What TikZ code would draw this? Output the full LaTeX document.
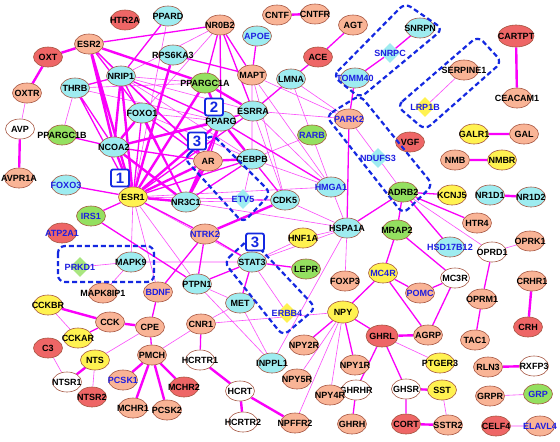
\documentclass[tikz,border=0pt]{standalone}
\usepackage{fontspec}
\setmainfont{Liberation Sans}
\usepackage{tikz}
\usetikzlibrary{shapes.geometric,backgrounds}
\definecolor{GeneSalmon}{RGB}{249,180,150}
\definecolor{GeneRed}{RGB}{238,102,102}
\definecolor{GeneCyan}{RGB}{158,236,240}
\definecolor{GeneGreen}{RGB}{148,224,96}
\definecolor{GeneYellow}{RGB}{255,242,80}
\definecolor{GeneRim}{RGB}{165,85,65}
\definecolor{LinkMag}{RGB}{250,0,250}
\definecolor{GroupBlue}{RGB}{20,40,225}
\definecolor{TextBlue}{RGB}{30,30,225}
\newcommand\genelab{\bfseries\fontsize{9}{10}\selectfont}
\tikzset{
  gene/.style={ellipse,draw=GeneRim,line width=0.6pt,minimum width=29pt,minimum height=20pt,inner sep=0pt},
  gsal/.style={gene,fill=GeneSalmon}, gred/.style={gene,fill=GeneRed},
  gcya/.style={gene,fill=GeneCyan}, ggrn/.style={gene,fill=GeneGreen},
  gyel/.style={gene,fill=GeneYellow}, gwht/.style={gene,fill=white},
  dia/.style={diamond,minimum width=20pt,minimum height=20pt,inner sep=0pt},
  dcya/.style={dia,fill=GeneCyan}, dyel/.style={dia,fill=GeneYellow}, dgrn/.style={dia,fill=GeneGreen!80},
  lab/.style={label={[font=\genelab,inner sep=0pt]center:#1}},
  blab/.style={label={[font=\genelab,inner sep=0pt,text=TextBlue]center:#1}},
}
\tikzset{strong/.style={draw=LinkMag,line width=2.4pt}, edge/.style={draw=LinkMag,line width=1.3pt},
  weak/.style={draw=LinkMag!70,line width=0.6pt},
  grp/.style={draw=GroupBlue,line width=2.2pt,dash pattern=on 5pt off 3pt,rounded corners=7pt},
  tag/.style={draw=GroupBlue,fill=white,line width=1.8pt,rounded corners=2pt,minimum width=18pt,minimum height=17pt,inner sep=0pt,text=GroupBlue,font=\bfseries\fontsize{15}{15}\selectfont}}

\begin{document}
\begin{tikzpicture}[x=1pt,y=-1pt]
\useasboundingbox (0,0) rectangle (560,442);
% top rows
\node[gred,lab=HTR2A] (htr2a) at (125,20) {};
\node[gcya,lab=PPARD] (ppard) at (168,16) {};
\node[gsal,lab=NR0B2] (nr0b2) at (220,25) {};
\node[gsal,lab=CNTF] (cntf) at (277,15) {};
\node[gsal,lab=CNTFR] (cntfr) at (315,14) {};
\node[gsal,lab=AGT] (agt) at (353,25) {};
\node[gcya,lab=SNRPN] (snrpn) at (420,28) {};
\node[gred,lab=CARTPT,minimum width=36pt,minimum height=22pt] (cartpt) at (516,36) {};
\node[gsal,lab=ESR2] (esr2) at (89,44) {};
\node[gcya,lab=RPS6KA3] (rps6ka3) at (173,55) {};
\node[gcya,blab=APOE] (apoe) at (257,36) {};
\node[gred,lab=ACE] (ace) at (318,57) {};
\node[gred,lab=OXT] (oxt) at (48,57) {};
\node[dcya,blab=SNRPC] (snrpc) at (390,53) {};
\node[gsal,lab=SERPINE1] (serpine1) at (464,70) {};
\node[gcya,lab=NRIP1] (nrip1) at (121,76) {};
\node[ggrn,lab=PPARGC1A] (ppargc1a) at (205,83) {};
\node[gsal,lab=MAPT] (mapt) at (252,75) {};
\node[gcya,lab=LMNA] (lmna) at (291,79) {};
\node[gcya,blab=TOMM40] (tomm40) at (355,78) {};
\node[gcya,lab=THRB] (thrb) at (75,88) {};
\node[gsal,lab=OXTR] (oxtr) at (27,93) {};
\node[gsal,lab=CEACAM1] (ceacam1) at (517,98) {};
\node[dyel,blab=LRP1B] (lrp1b) at (425,107) {};
\node[gcya,lab=FOXO1] (foxo1) at (142,113) {};
\node[gcya,lab=ESRRA] (esrra) at (253,111) {};
\node[gcya,lab=PPARG] (pparg) at (221,121) {};
\node[gsal,blab=PARK2] (park2) at (349,119) {};
\node[gwht,lab=AVP] (avp) at (20,129) {};
\node[ggrn,lab=PPARGC1B] (ppargc1b) at (62,135) {};
\node[gyel,lab=GALR1] (galr1) at (474,134) {};
\node[gsal,lab=GAL] (gal) at (524,134) {};
\node[gred,lab=VGF] (vgf) at (410,142) {};
\node[ggrn,blab=RARB] (rarb) at (312,135) {};
\node[gcya,lab=NCOA2] (ncoa2) at (114,147) {};
\node[gsal,lab=AR] (ar) at (208,161) {};
\node[gcya,lab=CEBPB] (cebpb) at (252,159) {};
\node[gsal,lab=NMB] (nmb) at (455,160) {};
\node[gyel,lab=NMBR] (nmbr) at (502,160) {};
\node[dcya,blab=NDUFS3] (ndufs3) at (378,158) {};
\node[gcya,blab=HMGA1] (hmga1) at (331,187) {};
% middle rows
\node[gsal,lab=AVPR1A] (avpr1a) at (19,178) {};
\node[gcya,blab=FOXO3] (foxo3) at (66,185) {};
\node[gyel,lab=ESR1] (esr1) at (133,197) {};
\node[gcya,lab=NR3C1] (nr3c1) at (186,202) {};
\node[dcya,blab=ETV5] (etv5) at (243,199) {};
\node[gcya,lab=CDK5] (cdk5) at (285,200) {};
\node[ggrn,lab=ADRB2] (adrb2) at (403,192) {};
\node[gyel,lab=KCNJ5] (kcnj5) at (452,195) {};
\node[gcya,lab=NR1D1] (nr1d1) at (490,195) {};
\node[gcya,lab=NR1D2] (nr1d2) at (531,197) {};
\node[gcya,lab=HSPA1A] (hspa1a) at (347,228) {};
\node[ggrn,blab=IRS1] (irs1) at (91,216) {};
\node[gred,blab=ATP2A1] (atp2a1) at (62,233) {};
\node[gsal,blab=NTRK2] (ntrk2) at (205,234) {};
\node[gsal,lab=HTR4] (htr4) at (477,223) {};
\node[gyel,lab=HNF1A] (hnf1a) at (303,238) {};
\node[ggrn,lab=MRAP2] (mrap2) at (397,230) {};
\node[gcya,lab=STAT3] (stat3) at (252,262) {};
\node[gcya,blab=HSD17B12] (hsd17b12) at (450,247) {};
\node[gwht,lab=OPRD1] (oprd1) at (492,252) {};
\node[gsal,lab=OPRK1] (oprk1) at (530,241) {};
\node[dgrn,blab=PRKD1] (prkd1) at (80,267) {};
\node[gcya,lab=MAPK9] (mapk9) at (131,262) {};
\node[ggrn,lab=LEPR] (lepr) at (306,269) {};
\node[gsal,lab=FOXP3] (foxp3) at (345,281) {};
\node[gyel,blab=MC4R] (mc4r) at (383,273) {};
\node[gcya,lab=PTPN1] (ptpn1) at (197,284) {};
\node[gsal,lab=MAPK8IP1] (mapk8ip1) at (103,293) {};
\node[gsal,blab=BDNF] (bdnf) at (158,292) {};
\node[gwht,lab=MC3R] (mc3r) at (455,278) {};
\node[gsal,lab=CRHR1] (crhr1) at (532,281) {};
\node[gsal,blab=POMC] (pomc) at (420,293) {};
\node[gcya,lab=MET] (met) at (240,303) {};
\node[gyel,lab=NPY,minimum width=31pt,minimum height=22pt] (npy) at (343,312) {};
% lower rows
\node[gyel,lab=CCKBR] (cckbr) at (48,305) {};
\node[gsal,lab=CCK] (cck) at (110,322) {};
\node[gsal,lab=CPE] (cpe) at (150,327) {};
\node[gsal,lab=OPRM1] (oprm1) at (482,299) {};
\node[dyel,blab=ERBB4] (erbb4) at (287,313) {};
\node[gsal,lab=CNR1] (cnr1) at (201,324) {};
\node[gyel,lab=CCKAR] (cckar) at (78,338) {};
\node[gred,lab=C3] (c3) at (48,348) {};
\node[gyel,lab=NTS] (nts) at (95,360) {};
\node[gsal,lab=PMCH] (pmch) at (152,355) {};
\node[gred,lab=GHRL,minimum width=32pt,minimum height=22pt] (ghrl) at (382,336) {};
\node[gsal,lab=AGRP] (agrp) at (428,335) {};
\node[gsal,lab=NPY2R] (npy2r) at (304,345) {};
\node[gred,lab=CRH] (crh) at (528,327) {};
\node[gsal,lab=TAC1] (tac1) at (475,340) {};
\node[gwht,lab=HCRTR1] (hcrtr1) at (200,360) {};
\node[gcya,lab=INPPL1] (inppl1) at (272,363) {};
\node[gyel,lab=PTGER3] (ptger3) at (440,363) {};
\node[gsal,lab=NPY1R] (npy1r) at (355,365) {};
\node[gwht,lab=NTSR1] (ntsr1) at (67,382) {};
\node[gred,lab=NTSR2] (ntsr2) at (92,397) {};
\node[gsal,blab=PCSK1] (pcsk1) at (123,380) {};
\node[gred,lab=MCHR2] (mchr2) at (184,387) {};
\node[gsal,lab=NPY5R] (npy5r) at (297,379) {};
\node[gsal,lab=RLN3] (rln3) at (488,367) {};
\node[gwht,lab=RXFP3] (rxfp3) at (534,366) {};
\node[gwht,lab=HCRT] (hcrt) at (240,391) {};
\node[gwht,lab=GHRHR] (ghrhr) at (356,390) {};
\node[gwht,lab=GHSR] (ghsr) at (406,389) {};
\node[gyel,lab=SST] (sst) at (442,390) {};
\node[gsal,lab=NPY4R] (npy4r) at (330,395) {};
\node[gsal,lab=GRPR] (grpr) at (490,396) {};
\node[ggrn,blab=GRP] (grp) at (538,394) {};
\node[gsal,lab=MCHR1] (mchr1) at (133,408) {};
\node[gsal,lab=PCSK2] (pcsk2) at (167,410) {};
\node[gwht,lab=HCRTR2] (hcrtr2) at (243,422) {};
\node[gsal,lab=NPFFR2] (npffr2) at (295,423) {};
\node[gsal,lab=GHRH] (ghrh) at (352,424) {};
\node[gred,lab=CORT] (cort) at (406,424) {};
\node[gsal,lab=SSTR2] (sstr2) at (448,425) {};
\node[gred,lab=CELF4] (celf4) at (496,426) {};
\node[gsal,blab=ELAVL4] (elavl4) at (540,426) {};

\begin{scope}[on background layer]
\fill[white] (0,0) rectangle (560,442);
% weak links
\draw[weak] (oxtr) -- (avp) (serpine1) -- (lrp1b) (celf4) -- (elavl4) (grpr) -- (grp) (oprk1) -- (oprd1) (adrb2) -- (oprd1);
\draw[weak] (park2) -- (ndufs3) (ndufs3) -- (adrb2) (park2) -- (lmna) (park2) -- (esrra) (park2) -- (mapt);
\draw[weak] (sst) -- (sstr2) (ghrl) -- (ptger3) (cckbr) -- (cckar) (c3) -- (ntsr1) (nts) -- (ntsr2) (nts) -- (cpe);
\draw[weak] (mapk9) -- (prkd1) (mapk9) -- (mapk8ip1) (mapk9) -- (esr1) (mapk9) -- (stat3);
\draw[weak] (esr1) -- (ptpn1) (esr1) -- (stat3) (esr1) -- (cdk5) (esr1) -- (etv5) (esr1) -- (hmga1) (esr1) -- (bdnf) (ppard) -- (esr1);
\draw[weak] (met) -- (ptpn1) (met) -- (inppl1) (met) -- (cnr1) (ptpn1) -- (inppl1);
\draw[weak] (stat3) -- (hnf1a) (stat3) -- (erbb4) (stat3) -- (hspa1a);
\draw[weak] (hspa1a) -- (hnf1a) (hspa1a) -- (foxp3) (hspa1a) -- (cdk5) (hspa1a) -- (nr3c1) (hspa1a) -- (inppl1) (hspa1a) -- (hmga1);
\draw[weak] (cnr1) -- (npy) (pmch) -- (cnr1) (npy) -- (npy5r) (npy) -- (npy4r) (npy) -- (npffr2);
\draw[weak] (cebpb) -- (rarb) (cebpb) -- (etv5) (cebpb) -- (hmga1) (lmna) -- (hmga1) (mapt) -- (cdk5) (mapt) -- (hmga1) (mapt) -- (cebpb);
\draw[weak] (thrb) -- (ppargc1b) (thrb) -- (ppargc1a) (thrb) -- (pparg) (nrip1) -- (ppargc1a) (nrip1) -- (esrra) (nrip1) -- (cebpb);
\draw[weak] (foxo1) -- (pparg) (foxo1) -- (cebpb) (ncoa2) -- (esrra) (nr3c1) -- (cdk5) (nr0b2) -- (nrip1) (nr0b2) -- (foxo1) (esrra) -- (cdk5) (esrra) -- (hmga1);
% plain links
\draw[edge] (esr2) -- (nrip1) (esr2) -- (nr0b2) (esr2) -- (foxo1) (esr2) -- (ar);
\draw[edge] (ppard) -- (nrip1) (thrb) -- (ncoa2) (thrb) -- (nrip1) (thrb) -- (esr1) (ppargc1b) -- (ncoa2);
\draw[edge] (nr0b2) -- (ppargc1a) (nr0b2) -- (esrra) (nr0b2) -- (pparg) (nr0b2) -- (mapt) (rps6ka3) -- (mapt) (apoe) -- (mapt);
\draw[edge] (agt) -- (ace) (ace) -- (lmna) (lmna) -- (esrra) (snrpn) -- (snrpc) (snrpc) -- (tomm40) (tomm40) -- (park2);
\draw[edge] (esr1) -- (foxo1) (esr1) -- (esrra) (esr1) -- (cebpb) (esr1) -- (foxo3) (esr1) -- (irs1) (esr1) -- (ntrk2);
\draw[edge] (nrip1) -- (pparg) (nrip1) -- (nr3c1) (nrip1) -- (ar) (foxo1) -- (ar) (foxo1) -- (nr3c1) (ncoa2) -- (ar);
\draw[edge] (pparg) -- (esrra) (pparg) -- (ar) (pparg) -- (hmga1) (cebpb) -- (nr3c1) (cebpb) -- (cdk5);
\draw[edge] (park2) -- (hspa1a) (adrb2) -- (hspa1a) (adrb2) -- (mrap2) (adrb2) -- (kcnj5) (adrb2) -- (htr4) (adrb2) -- (hsd17b12);
\draw[edge] (mrap2) -- (mc4r) (mrap2) -- (mc3r) (mc4r) -- (pomc) (mc4r) -- (agrp) (mc4r) -- (npy) (pomc) -- (mc3r) (agrp) -- (mc3r);
\draw[edge] (oprd1) -- (oprm1) (oprm1) -- (tac1) (npy) -- (npy2r) (npy) -- (npy1r) (npy) -- (ghrl);
\draw[edge] (ghrl) -- (ghsr) (ghrl) -- (ghrhr) (ghrhr) -- (ghrh) (ghsr) -- (cort);
\draw[edge] (stat3) -- (lepr) (stat3) -- (ptpn1) (stat3) -- (met) (stat3) -- (ntrk2) (irs1) -- (ptpn1) (ntrk2) -- (bdnf) (ntrk2) -- (ptpn1);
\draw[edge] (bdnf) -- (cpe) (cpe) -- (pmch) (cck) -- (cckar) (cnr1) -- (hcrtr1);
% strong links
\draw[strong] (oxt) -- (esr2) (oxt) -- (oxtr) (avp) -- (avpr1a) (cntf) -- (cntfr) (cartpt) -- (ceacam1);
\draw[strong] (galr1) -- (gal) (nmb) -- (nmbr) (nr1d1) -- (nr1d2) (crhr1) -- (crh) (rln3) -- (rxfp3);
\draw[strong] (esr2) -- (ncoa2) (esr2) -- (esr1) (esr2) -- (ppargc1a);
\draw[strong] (esr1) -- (ncoa2) (esr1) -- (nrip1) (esr1) -- (ppargc1a) (esr1) -- (pparg) (esr1) -- (ar) (esr1) -- (nr3c1) (esr1) -- (rps6ka3);
\draw[strong] (ncoa2) -- (nrip1) (ncoa2) -- (pparg) (ncoa2) -- (nr3c1) (ncoa2) -- (foxo1);
\draw[strong] (ppargc1a) -- (pparg) (ppargc1a) -- (esrra) (pparg) -- (cebpb) (pparg) -- (nr3c1) (ar) -- (nr3c1) (ar) -- (cebpb) (ntrk2) -- (cdk5);
\draw[strong] (cck) -- (cckbr) (cck) -- (cpe) (hcrtr1) -- (hcrt) (hcrt) -- (hcrtr2) (hcrt) -- (npffr2);
\draw[strong] (pmch) -- (pcsk1) (pmch) -- (mchr1) (pmch) -- (pcsk2) (pmch) -- (mchr2) (nts) -- (ntsr1);
\draw[strong] (ghrl) -- (agrp) (ghsr) -- (sst) (cort) -- (sstr2);
\end{scope}

% dashed groups
\draw[grp] (333,76) -- (405,3) -- (443,29) -- (360,98) -- cycle;
\draw[grp] (397,106) -- (478,36) -- (502,62) -- (425,130) -- cycle;
\draw[grp] (326,116) -- (360,95) -- (433,185) -- (403,214) -- cycle;
\draw[grp] (184,158) -- (212,134) -- (271,193) -- (243,223) -- cycle;
\draw[grp] (224,262) -- (250,238) -- (316,308) -- (283,336) -- cycle;
\draw[grp] (58,246) rectangle (154,282);
\node[tag] (tagone) at (120,178) {1};
\node[tag] (tagtwo) at (214,107) {2};
\node[tag] (tagthree) at (197,141) {3};
\node[tag] (tagfour) at (255,242) {3};
\end{tikzpicture}
\end{document}
